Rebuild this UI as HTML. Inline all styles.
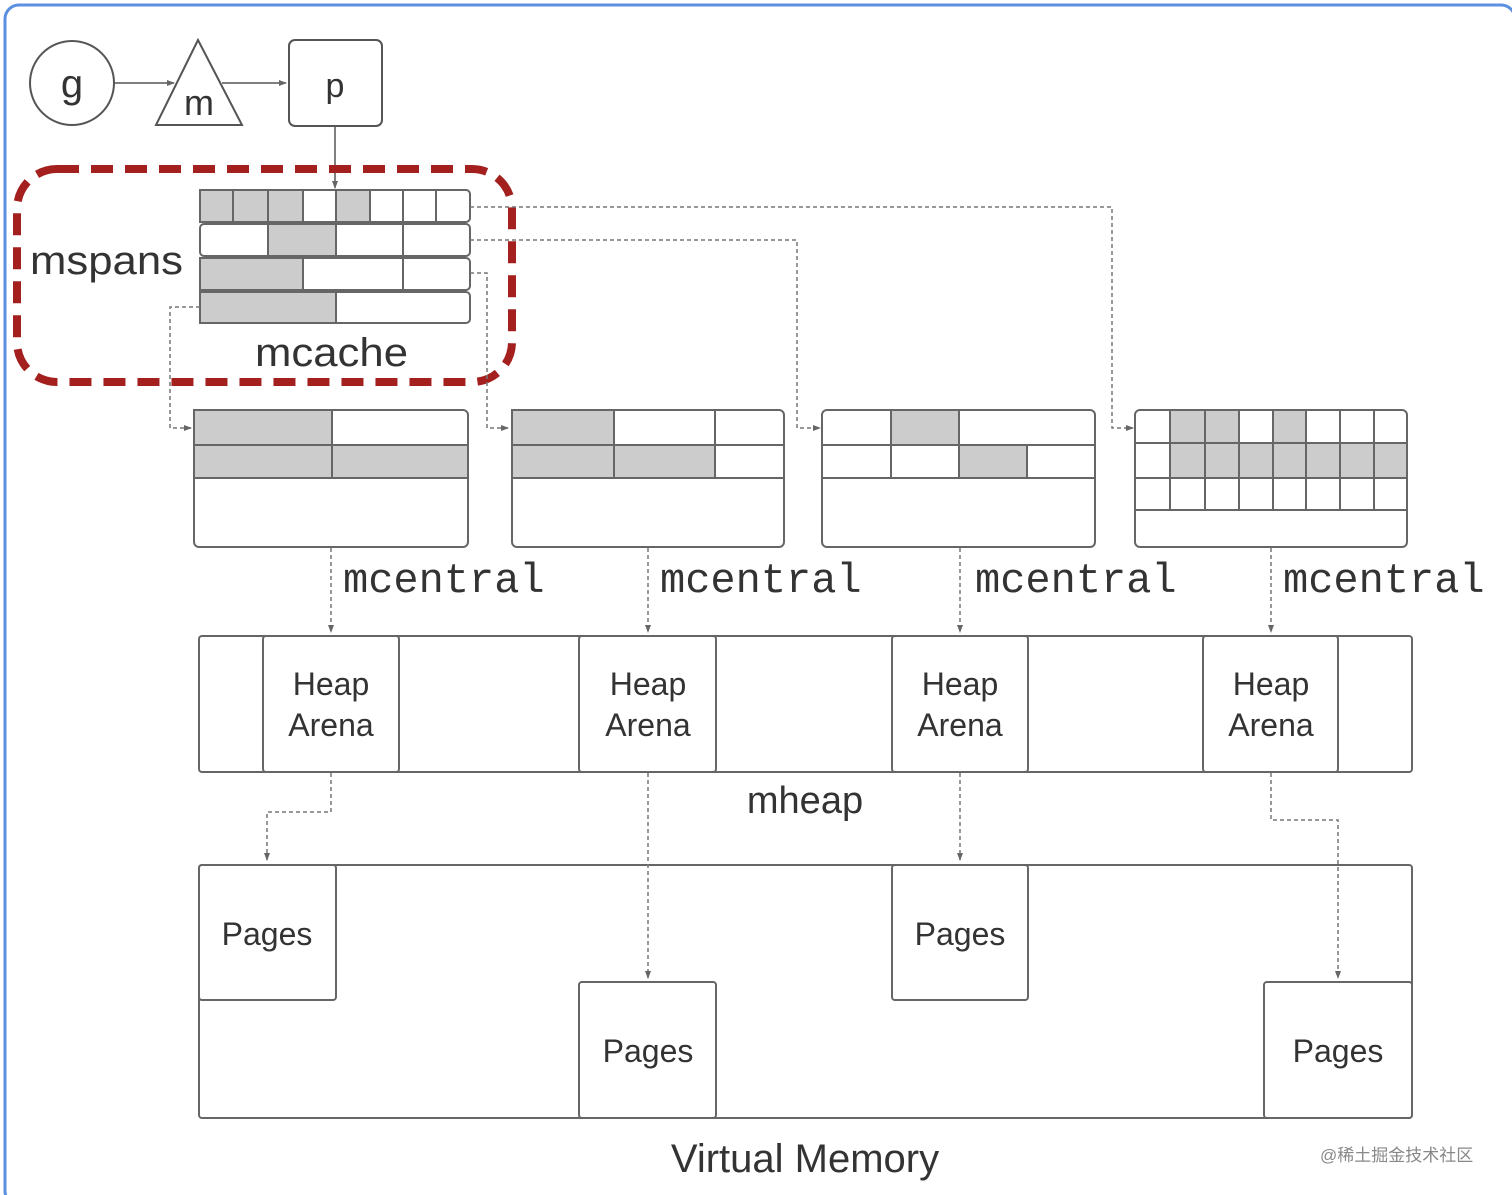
<!DOCTYPE html>
<html><head><meta charset="utf-8"><style>
html,body{margin:0;padding:0;background:#fff;}
svg{display:block;}
text{font-family:"Liberation Sans",sans-serif;fill:#333;}
.mono{font-family:"Liberation Mono",monospace;}
</style></head><body>
<svg width="1512" height="1195" viewBox="0 0 1512 1195" xmlns="http://www.w3.org/2000/svg">
<defs>
<marker id="a" markerWidth="8" markerHeight="8" refX="7" refY="4" orient="auto" markerUnits="userSpaceOnUse"><path d="M0,1 L8,4 L0,7 z" fill="#666"/></marker>
</defs>
<rect x="5" y="5" width="1510" height="1200" rx="14" fill="#fff" stroke="#5b8fe0" stroke-width="3"/>
<g stroke="#555" stroke-width="2" fill="#fff">
<circle cx="72" cy="83" r="42"/>
<polygon points="198,40 156,125 242,125"/>
<rect x="289" y="40" width="93" height="86" rx="6"/>
</g>
<g stroke="#555" stroke-width="1.5" fill="none">
<line x1="115" y1="83" x2="174" y2="83" marker-end="url(#a)"/>
<line x1="222" y1="83" x2="286" y2="83" marker-end="url(#a)"/>
<line x1="335" y1="126" x2="335" y2="188" marker-end="url(#a)"/>
</g>
<text x="72" y="97" font-size="40" text-anchor="middle">g</text>
<text x="199" y="115" font-size="36" text-anchor="middle">m</text>
<text x="335" y="97" font-size="34" text-anchor="middle">p</text>

<!-- mcache rows -->
<g stroke="#666" stroke-width="2">
<rect x="200" y="190" width="270" height="32" rx="4" fill="#fff"/>
<rect x="200" y="190" width="103" height="32" fill="#ccc"/>
<rect x="336" y="190" width="34" height="32" fill="#ccc"/>
<line x1="233" y1="190" x2="233" y2="222"/><line x1="268" y1="190" x2="268" y2="222"/>
<line x1="403" y1="190" x2="403" y2="222"/><line x1="436" y1="190" x2="436" y2="222"/>
<rect x="200" y="224" width="270" height="32" rx="4" fill="#fff"/>
<rect x="268" y="224" width="68" height="32" fill="#ccc"/>
<line x1="403" y1="224" x2="403" y2="256"/>
<rect x="200" y="258" width="270" height="32" rx="4" fill="#fff"/>
<rect x="200" y="258" width="103" height="32" fill="#ccc"/>
<line x1="403" y1="258" x2="403" y2="290"/>
<rect x="200" y="292" width="270" height="31" rx="4" fill="#fff"/>
<rect x="200" y="292" width="136" height="31" fill="#ccc"/>
</g>
<rect x="17" y="169" width="495" height="213" rx="40" fill="none" stroke="#a3201f" stroke-width="8" stroke-dasharray="22 12"/>
<text x="30" y="274" font-size="40" textLength="153" lengthAdjust="spacingAndGlyphs">mspans</text>
<text x="255" y="366" font-size="40" textLength="153" lengthAdjust="spacingAndGlyphs">mcache</text>

<!-- mcentral boxes -->
<g stroke="#666" stroke-width="2" fill="#fff">
<rect x="194" y="410" width="274" height="137" rx="5"/>
<rect x="194" y="410" width="138" height="35" fill="#ccc"/>
<rect x="194" y="445" width="274" height="33" fill="#ccc"/>
<line x1="332" y1="445" x2="332" y2="478"/>
<line x1="194" y1="478" x2="468" y2="478"/>

<rect x="512" y="410" width="272" height="137" rx="5"/>
<rect x="512" y="410" width="102" height="35" fill="#ccc"/>
<line x1="715" y1="410" x2="715" y2="445"/>
<rect x="512" y="445" width="203" height="33" fill="#ccc"/>
<line x1="614" y1="445" x2="614" y2="478"/>
<line x1="512" y1="445" x2="784" y2="445"/>
<line x1="512" y1="478" x2="784" y2="478"/>

<rect x="822" y="410" width="273" height="137" rx="5"/>
<rect x="891" y="410" width="68" height="35" fill="#ccc"/>
<line x1="822" y1="445" x2="1095" y2="445"/>
<line x1="891" y1="445" x2="891" y2="478"/>
<rect x="959" y="445" width="68" height="33" fill="#ccc"/>
<line x1="822" y1="478" x2="1095" y2="478"/>

<rect x="1135" y="410" width="272" height="137" rx="5"/>
<rect x="1170" y="410" width="69" height="33" fill="#ccc"/>
<rect x="1273" y="410" width="33" height="33" fill="#ccc"/>
<rect x="1170" y="443" width="237" height="35" fill="#ccc"/>
<line x1="1135" y1="443" x2="1407" y2="443"/>
<line x1="1135" y1="478" x2="1407" y2="478"/>
<line x1="1135" y1="510" x2="1407" y2="510"/>
<g>
<line x1="1170" y1="410" x2="1170" y2="510"/><line x1="1205" y1="410" x2="1205" y2="510"/>
<line x1="1239" y1="410" x2="1239" y2="510"/><line x1="1273" y1="410" x2="1273" y2="510"/>
<line x1="1306" y1="410" x2="1306" y2="510"/><line x1="1340" y1="410" x2="1340" y2="510"/>
<line x1="1374" y1="410" x2="1374" y2="510"/>
</g>
</g>
<text class="mono" x="343" y="592" font-size="42">mcentral</text>
<text class="mono" x="660" y="592" font-size="42">mcentral</text>
<text class="mono" x="975" y="592" font-size="42">mcentral</text>
<text class="mono" x="1283" y="592" font-size="42">mcentral</text>

<!-- mheap -->
<g stroke="#666" stroke-width="2" fill="#fff">
<rect x="199" y="636" width="1213" height="136" rx="3"/>
<rect x="263" y="636" width="136" height="136" rx="3"/>
<rect x="579" y="636" width="137" height="136" rx="3"/>
<rect x="892" y="636" width="136" height="136" rx="3"/>
<rect x="1203" y="636" width="135" height="136" rx="3"/>
</g>
<g font-size="32" text-anchor="middle">
<text x="331" y="695">Heap</text><text x="331" y="736">Arena</text>
<text x="648" y="695">Heap</text><text x="648" y="736">Arena</text>
<text x="960" y="695">Heap</text><text x="960" y="736">Arena</text>
<text x="1271" y="695">Heap</text><text x="1271" y="736">Arena</text>
</g>
<text x="805" y="813" font-size="38" text-anchor="middle">mheap</text>

<!-- virtual memory -->
<g stroke="#666" stroke-width="2" fill="#fff">
<rect x="199" y="865" width="1213" height="253" rx="3"/>
<rect x="199" y="865" width="137" height="135" rx="3"/>
<rect x="579" y="982" width="137" height="136" rx="3"/>
<rect x="892" y="865" width="136" height="135" rx="3"/>
<rect x="1264" y="982" width="148" height="136" rx="3"/>
</g>
<g font-size="32" text-anchor="middle">
<text x="267" y="945">Pages</text>
<text x="648" y="1062">Pages</text>
<text x="960" y="945">Pages</text>
<text x="1338" y="1062">Pages</text>
</g>

<!-- dashed connectors -->
<g stroke="#777" stroke-width="1.5" fill="none" stroke-dasharray="4 3">
<path d="M470,207 H1112 V428 H1133" marker-end="url(#a)"/>
<path d="M470,240 H797 V428 H820" marker-end="url(#a)"/>
<path d="M470,273 H487 V428 H508" marker-end="url(#a)"/>
<path d="M200,307 H170 V428 H191" marker-end="url(#a)"/>
<path d="M331,548 V632" marker-end="url(#a)"/>
<path d="M648,548 V632" marker-end="url(#a)"/>
<path d="M960,548 V632" marker-end="url(#a)"/>
<path d="M1271,548 V632" marker-end="url(#a)"/>
<path d="M331,773 V812 H267 V860" marker-end="url(#a)"/>
<path d="M648,773 V978" marker-end="url(#a)"/>
<path d="M960,773 V860" marker-end="url(#a)"/>
<path d="M1271,773 V820 H1338 V978" marker-end="url(#a)"/>
</g>

<text x="805" y="1172" font-size="40" text-anchor="middle">Virtual Memory</text>
<text x="1320" y="1161" font-size="17" style="fill:#888;font-family:'Liberation Sans','Noto Sans CJK SC',sans-serif">@稀土掘金技术社区</text>
</svg>
</body></html>
